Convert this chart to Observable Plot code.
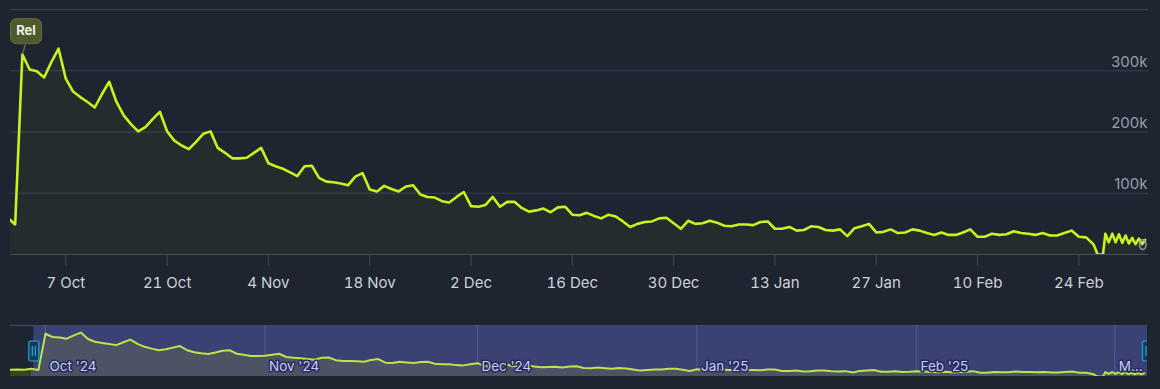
<!DOCTYPE html>
<html>
<head>
<meta charset="utf-8">
<script src="https://cdn.jsdelivr.net/npm/d3@7"></script>
<script src="https://cdn.jsdelivr.net/npm/@observablehq/plot@0.6"></script>
<style>
  html, body { margin: 0; padding: 0; background: #1e2430; overflow: hidden; }
  #chart svg { display: block; }
</style>
</head>
<body>
<div id="chart"></div>
<script>
// ---------- DATA ----------
const dailyStart = "2024-09-26";
const dailyPlayers = [
  // Sep 26 - Sep 30
  52000, 53000, 52000, 60000, 49000,
  // Oct
  327000, 302000, 299000, 289000, 314000, 336000, 287000, 266000, 257000, 249000,
  240000, 262000, 282000, 249000, 227000, 213000, 201000, 208000, 221000, 233000,
  201000, 186000, 178000, 172000, 184000, 197000, 201000, 174000, 166000, 157000, 157000,
  // Nov
  158000, 166000, 174000, 149000, 144000, 140000, 134000, 128000, 144000, 145000,
  125000, 119000, 118000, 116000, 113000, 127000, 133000, 106000, 103000, 112000,
  107000, 103000, 111000, 113000, 98000, 94000, 93000, 87000, 85000, 94000,
  // Dec
  102000, 79000, 78000, 81000, 94000, 78000, 86000, 86000, 76000, 70000,
  72000, 75000, 69000, 77000, 78000, 65000, 64000, 68000, 63000, 59000,
  65000, 62000, 54000, 45000, 50000, 53000, 54000, 59000, 60000, 51000, 42000,
  // Jan
  55000, 50000, 51000, 55000, 52000, 47000, 46000, 49000, 49000, 48000,
  53000, 54000, 42000, 42000, 45000, 39000, 40000, 46000, 45000, 40000,
  39000, 41000, 30000, 43000, 46000, 50000, 36000, 37000, 41000, 35000, 36000,
  // Feb 1 - Feb 25
  41000, 39000, 35000, 32000, 36000, 32000, 32000, 36000, 41000, 29000,
  29000, 34000, 32000, 33000, 38000, 35000, 34000, 32000, 35000, 31000,
  31000, 35000, 39000, 29000, 28000
];
// last days, finer resolution
const tailTimes = [
  "2025-02-26T00:00Z", "2025-02-26T07:00Z", "2025-02-26T14:00Z", "2025-02-27T08:00Z",
  "2025-02-27T16:00Z", "2025-02-28T03:00Z", "2025-02-28T15:00Z", "2025-03-01T02:00Z",
  "2025-03-01T13:00Z", "2025-03-02T00:00Z", "2025-03-02T11:00Z", "2025-03-02T22:00Z",
  "2025-03-03T09:00Z", "2025-03-03T20:00Z", "2025-03-04T07:00Z", "2025-03-04T18:00Z",
  "2025-03-05T04:00Z"
];
const tailPlayers = [
  17000, 9000, 0, 0,
  34000, 20000, 34000, 20000,
  33000, 19000, 31000, 18000,
  27000, 17000, 26000, 17000,
  24000
];

const mainDomain = ["2024-09-29T08:35Z", "2025-03-05T15:00Z"];
const navDomain = ["2024-09-26T01:30Z", "2025-03-05T15:00Z"];
const xTickDates = ["2024-10-07", "2024-10-21", "2024-11-04", "2024-11-18", "2024-12-02",
  "2024-12-16", "2024-12-30", "2025-01-13", "2025-01-27", "2025-02-10", "2025-02-24"];
const yGridValues = [0, 100000, 200000, 300000, 400000];
const yTickValues = [0, 100000, 200000, 300000];
const yTickLabels = ["0", "100k", "200k", "300k"];
const releaseDate = "2024-10-01";
const releaseLabel = "Rel";
const navMonths = ["2024-10-01", "2024-11-01", "2024-12-01", "2025-01-01", "2025-02-01", "2025-03-01"];
const navMonthLabels = ["Oct '24", "Nov '24", "Dec '24", "Jan '25", "Feb '25", "M..."];
const navYMax = 390000;

// ---------- BUILD ----------
const start = new Date(dailyStart + "T00:00Z");
const series = dailyPlayers.map((v, i) => ({ date: d3.utcDay.offset(start, i), players: v }))
  .concat(tailTimes.map((t, i) => ({ date: new Date(t), players: tailPlayers[i] })));

const toDate = s => new Date(s.length === 10 ? s + "T00:00Z" : s);
const mainX = mainDomain.map(toDate);
const navX = navDomain.map(toDate);
const xTicks = xTickDates.map(toDate);
const rel = series.find(d => +d.date === +toDate(releaseDate));
const months = navMonths.map(toDate);
const selection = [{ start: mainX[0], end: mainX[1] }];

const lineColor = "#c8f21d";
const font = "Inter, 'Open Sans', 'DejaVu Sans', sans-serif";

function roundRect(w, h, r) {
  const x0 = -w / 2, y0 = -h / 2;
  return {
    draw(ctx) {
      ctx.moveTo(x0 + r, y0);
      ctx.lineTo(x0 + w - r, y0);
      ctx.arcTo(x0 + w, y0, x0 + w, y0 + r, r);
      ctx.lineTo(x0 + w, y0 + h - r);
      ctx.arcTo(x0 + w, y0 + h, x0 + w - r, y0 + h, r);
      ctx.lineTo(x0 + r, y0 + h);
      ctx.arcTo(x0, y0 + h, x0, y0 + h - r, r);
      ctx.lineTo(x0, y0 + r);
      ctx.arcTo(x0, y0, x0 + r, y0, r);
      ctx.closePath();
    }
  };
}
const connector = { draw(ctx) { ctx.moveTo(0, 0); ctx.lineTo(3, -10); } };
const handle = {
  draw(ctx) {
    const w = 10, h = 20, r = 1.5, x0 = -5, y0 = -10;
    ctx.moveTo(x0 + r, y0);
    ctx.lineTo(x0 + w - r, y0);
    ctx.arcTo(x0 + w, y0, x0 + w, y0 + r, r);
    ctx.lineTo(x0 + w, y0 + h - r);
    ctx.arcTo(x0 + w, y0 + h, x0 + w - r, y0 + h, r);
    ctx.lineTo(x0 + r, y0 + h);
    ctx.arcTo(x0, y0 + h, x0, y0 + h - r, r);
    ctx.lineTo(x0, y0 + r);
    ctx.arcTo(x0, y0, x0 + r, y0, r);
    ctx.closePath();
    ctx.moveTo(-1.5, -5); ctx.lineTo(-1.5, 5);
    ctx.moveTo(1.5, -5); ctx.lineTo(1.5, 5);
  }
};

const main = Plot.plot({
  width: 1160,
  height: 300,
  marginLeft: 10,
  marginRight: 12,
  marginTop: 9,
  marginBottom: 46,
  style: { background: "#1e2430", fontFamily: font, color: "#cdd2da", overflow: "visible" },
  x: { type: "utc", domain: mainX },
  y: { domain: [0, 400000], axis: null },
  marks: [
    Plot.ruleY(yGridValues, { stroke: "#394050", strokeWidth: 1 }),
    Plot.ruleY([0], { stroke: "#464d5d", strokeWidth: 1 }),
    Plot.areaY(series, { x: "date", y: "players", fill: lineColor, fillOpacity: 0.045, clip: true }),
    Plot.lineY(series, { x: "date", y: "players", stroke: lineColor, strokeWidth: 2.6, strokeLinejoin: "round", clip: true }),
    Plot.axisX({
      ticks: xTicks, tickFormat: d3.utcFormat("%-d %b"), tickSize: 12, tickPadding: 11,
      stroke: "#434a5a", fill: "#cdd2da", fontSize: 15, label: null
    }),
    Plot.text(yTickValues, {
      y: d => d, text: (d, i) => yTickLabels[i], frameAnchor: "right", textAnchor: "end",
      dx: -1, dy: -9, fill: "#989ea9", fontSize: 15
    }),
    Plot.dot([rel], { x: "date", y: "players", symbol: connector, stroke: "#6b7548", strokeWidth: 1.2, fill: "none" }),
    Plot.dot([rel], { x: "date", y: "players", symbol: roundRect(31, 25, 6), dx: 3.6, dy: -23, fill: "#4f5b2c", stroke: "#65723c", strokeWidth: 1 }),
    Plot.text([rel], { x: "date", y: "players", text: () => releaseLabel, dx: 3.6, dy: -23, fill: "#eef1e2", fontSize: 13, fontWeight: "bold" })
  ]
});

const preData = series.filter(d => d.date <= d3.utcDay.offset(mainX[0], 1));
const postData = series.filter(d => d.date >= d3.utcDay.floor(mainX[0]));

const nav = Plot.plot({
  width: 1160,
  height: 89,
  marginLeft: 10,
  marginRight: 13,
  marginTop: 25,
  marginBottom: 13,
  style: { background: "#1e2430", fontFamily: font },
  x: { type: "utc", domain: navX, axis: null },
  y: { domain: [0, navYMax], axis: null },
  marks: [
    Plot.rect(selection, { x1: "start", x2: "end", y1: 0, y2: navYMax, fill: "#394272" }),
    Plot.ruleY([navYMax], { stroke: "#444a5c" }),
    Plot.ruleX(months, { stroke: "#5a63a0", strokeOpacity: 0.75 }),
    Plot.areaY(preData, { x: "date", y: "players", fill: "#3a4418", clip: true }),
    Plot.areaY(postData, { x: "date", y: "players", fill: "#4c5365", clip: true }),
    Plot.lineY(series, { x: "date", y: "players", stroke: "#bde34b", strokeWidth: 2, clip: true }),
    Plot.text(months, {
      x: d => d, text: (d, i) => navMonthLabels[i], frameAnchor: "bottom", textAnchor: "start",
      lineAnchor: "middle", dx: 4, dy: -10, fill: "#c9ccf3", stroke: "#262c5c", strokeWidth: 3,
      paintOrder: "stroke", fontSize: 13.5, clip: true
    }),
    Plot.dot([mainX[0], mainX[1]], { x: d => d, symbol: handle, fill: "#1b3a58", stroke: "#1fa6dc", strokeWidth: 1.2, clip: true })
  ]
});

document.getElementById("chart").append(main, nav);
</script>
</body>
</html>
